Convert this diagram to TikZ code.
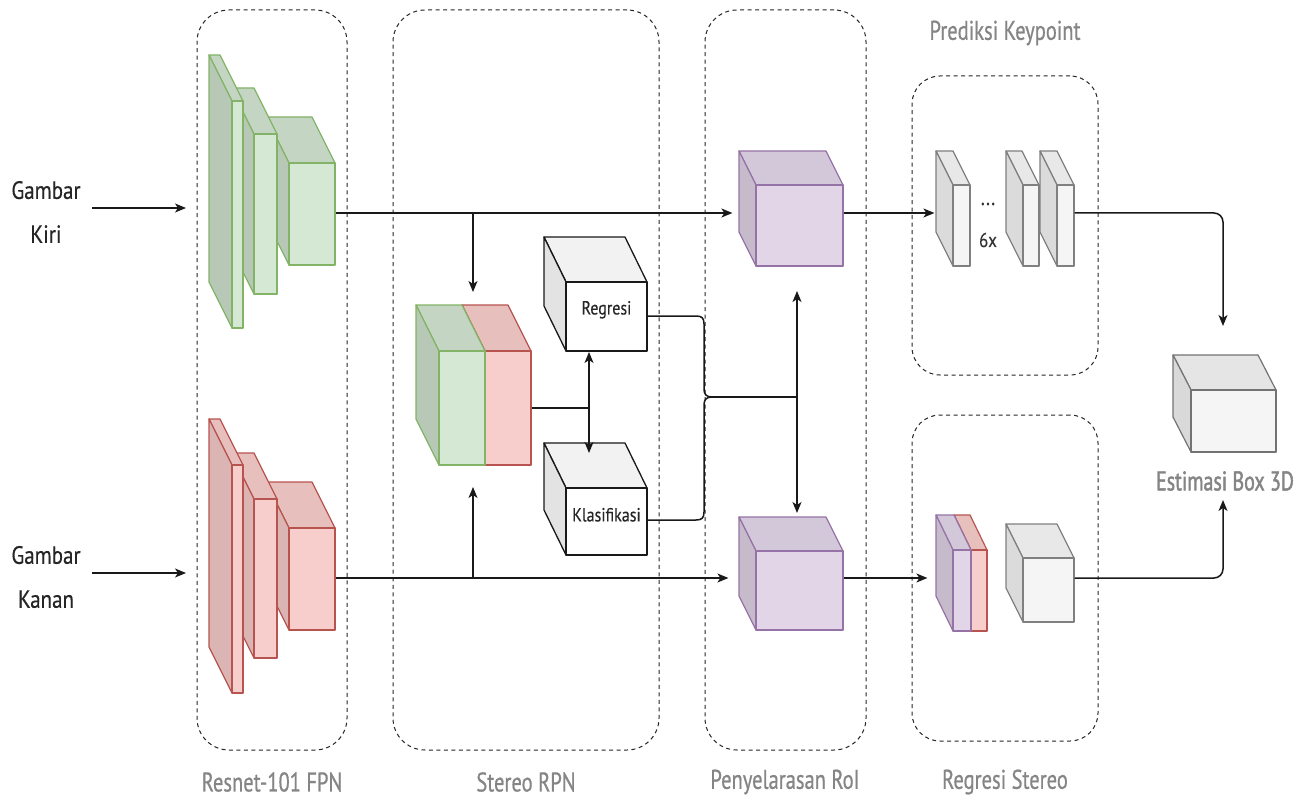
\documentclass[tikz,border=0pt]{standalone}
\usepackage{fontspec}
\setmainfont{PT Sans}
\newfontfamily\narrowfont{PT Sans}[FakeStretch=0.76,FakeBold=0.6]
\newfontfamily\heavyfont{PT Sans}[FakeStretch=0.74,FakeBold=1.6]
\newfontfamily\innerfont{PT Sans}[FakeStretch=0.84,FakeBold=0.3]
\usetikzlibrary{arrows.meta,fit}

\definecolor{gFront}{HTML}{D5E8D4}\definecolor{gLine}{HTML}{82B366}
\definecolor{rFront}{HTML}{F8CECC}\definecolor{rLine}{HTML}{B85450}
\definecolor{pFront}{HTML}{E1D5E7}\definecolor{pLine}{HTML}{9673A6}
\definecolor{labelGray}{HTML}{858585}

\tikzset{
  green front/.style={fill=gFront, draw=gLine, line width=1.2pt, line join=round},
  green top/.style={fill=gFront!92!black, draw=gLine, line width=1.2pt, line join=round},
  green side/.style={fill=gFront!86!black, draw=gLine, line width=1.2pt, line join=round},
  red front/.style={fill=rFront, draw=rLine, line width=1.2pt, line join=round},
  red top/.style={fill=rFront!93!black, draw=rLine, line width=1.2pt, line join=round},
  red side/.style={fill=rFront!88!black, draw=rLine, line width=1.2pt, line join=round},
  purple front/.style={fill=pFront, draw=pLine, line width=1.2pt, line join=round},
  purple top/.style={fill=pFront!94!black, draw=pLine, line width=1.2pt, line join=round},
  purple side/.style={fill=pFront!88!black, draw=pLine, line width=1.2pt, line join=round},
  slab front/.style={fill=black!4, draw=black!50, line width=1.2pt, line join=round},
  slab top/.style={fill=black!9, draw=black!50, line width=1.2pt, line join=round},
  slab side/.style={fill=black!14, draw=black!50, line width=1.2pt, line join=round},
  head front/.style={fill=white, draw=black!90, line width=1.3pt, line join=round},
  head top/.style={fill=black!5, draw=black!90, line width=1.3pt, line join=round},
  head side/.style={fill=black!11, draw=black!90, line width=1.3pt, line join=round},
  out front/.style={fill=black!4, draw=black!55, line width=1.2pt, line join=round},
  out top/.style={fill=black!10, draw=black!55, line width=1.2pt, line join=round},
  out side/.style={fill=black!15, draw=black!55, line width=1.2pt, line join=round},
  group/.style={draw=black!85, line width=1pt, dash pattern=on 4pt off 3.5pt, rounded corners=32pt, inner sep=0pt},
  conn/.style={draw=black!90, line width=1.5pt},
  arr/.style={conn, -{Stealth[length=11pt,width=9pt,inset=3pt]}},
  darr/.style={conn, {Stealth[length=11pt,width=9pt,inset=3pt]}-{Stealth[length=11pt,width=9pt,inset=3pt]}},
  glabel/.style={text=labelGray, font=\narrowfont\fontsize{27}{30}\selectfont, inner sep=0pt},
  inlabel/.style={text=black!85, font=\innerfont\fontsize{19}{22}\selectfont},
  inputlabel/.style={align=center, text=black!85, font=\innerfont\fontsize{25}{44}\selectfont},
}

% cube: name, left, top, right, bottom (front face), depth dx, depth dy, colour set, text
\newcommand\drawcube[9]{%
  \path[#8 top] (#2,#3) -- (#2-#6,#3-#7) -- (#4-#6,#3-#7) -- (#4,#3) -- cycle;
  \path[#8 side] (#2,#3) -- (#2-#6,#3-#7) -- (#2-#6,#5-#7) -- (#2,#5) -- cycle;
  \node[#8 front, fit={(#2,#3)(#4,#5)}, inner sep=0pt, inlabel] (#1) {#9};
}

\begin{document}
\begin{tikzpicture}[x=1pt,y=-1pt]
\useasboundingbox[fill=white] (0,0) rectangle (1307,805);

% stage frames
\node[group, fit={(197,10)(347,750)}] (fpnGroup) {};
\node[group, fit={(393,10)(659,750)}] (rpnGroup) {};
\node[group, fit={(705,10)(866,750)}] (roiGroup) {};
\node[group, rounded corners=28pt, fit={(912,76)(1098,375)}] (kpGroup) {};
\node[group, rounded corners=28pt, fit={(912,415)(1098,741)}] (srGroup) {};

% stage titles
\node[glabel] (tFpn) at (272,782) {Resnet-101 FPN};
\node[glabel] (tRpn) at (526,782) {Stereo RPN};
\node[glabel] (tRoi) at (785,782) {Penyelarasan RoI};
\node[glabel] (tSr) at (1005,782) {Regresi Stereo};
\node[glabel] (tKp) at (1005,33) {Prediksi Keypoint};

% inputs
\node[inputlabel] (inL) at (46,212) {Gambar\\Kiri};
\node[inputlabel] (inR) at (46,577) {Gambar\\Kanan};

% left backbone (green)
\drawcube{fpnL3}{289}{163}{335}{265}{23}{46}{green}{}
\drawcube{fpnL2}{254}{134}{277}{294}{23}{46}{green}{}
\drawcube{fpnL1}{232}{101}{243}{328}{23}{46}{green}{}
% right backbone (red)
\drawcube{fpnR3}{289}{528}{335}{630}{23}{46}{red}{}
\drawcube{fpnR2}{254}{499}{277}{658}{23}{46}{red}{}
\drawcube{fpnR1}{232}{465}{243}{693}{23}{46}{red}{}

% stereo RPN: fused features and heads
\drawcube{fuseR}{485}{351}{531}{465}{23}{46}{red}{}
\drawcube{fuseL}{439}{351}{485}{465}{23}{46}{green}{}
\drawcube{reg}{566}{282}{647}{351}{22}{45}{head}{Regresi}
\drawcube{cls}{566}{488}{647}{555}{22}{45}{head}{Klasifikasi}

% RoI align
\drawcube{roiL}{756}{185}{843}{266}{17}{34}{purple}{}
\drawcube{roiR}{756}{551}{843}{630}{17}{34}{purple}{}

% keypoint branch
\drawcube{kp1}{953}{185}{970}{266}{17}{34}{slab}{}
\drawcube{kp2}{1023}{185}{1039}{266}{17}{34}{slab}{}
\drawcube{kp3}{1057}{185}{1074}{266}{17}{34}{slab}{}
\node[text=black!80, font=\innerfont\fontsize{22}{22}\selectfont] (kpDots) at (988,204) {...};
\node[text=black!80, font=\innerfont\fontsize{20}{22}\selectfont] (kpRep) at (988,240) {6x};

% stereo regression branch
\drawcube{srR}{971}{550}{987}{631}{17}{35}{red}{}
\drawcube{srP}{953}{550}{971}{631}{17}{35}{purple}{}
\drawcube{srBox}{1023}{558}{1074}{622}{17}{34}{slab}{}

% output
\drawcube{box3d}{1191}{390}{1276}{452}{18}{35}{out}{}
\node[glabel, text=black!48, font=\heavyfont\fontsize{27}{30}\selectfont] (tBox) at (1225,481) {Estimasi Box 3D};

% junction points
\coordinate (inLend) at (186,208);
\coordinate (inRend) at (186,573);
\coordinate (inLstart) at (92,208);
\coordinate (inRstart) at (92,573);
\coordinate (tapL) at (473,213);
\coordinate (tapR) at (473,578);
\coordinate (fuseTop) at (473,292);
\coordinate (fuseBot) at (473,487);
\coordinate (headJ) at (589,408);
\coordinate (regIn) at (589,352);
\coordinate (clsIn) at (589,453);
\coordinate (brace) at (712,397);
\coordinate (roiJ) at (797,397);
\coordinate (roiUp) at (797,291);
\coordinate (roiDn) at (797,513);
\coordinate (boxTop) at (1223,326);
\coordinate (boxBot) at (1223,500);

% connectors
\draw[arr] (inLstart) -- (inLend);
\draw[arr] (inRstart) -- (inRend);
\draw[arr] (fpnL3.east |- tapL) -- ([xshift=-23pt]roiL.west |- tapL);
\draw[arr] (fpnR3.east |- tapR) -- ([xshift=-27pt]roiR.west |- tapR);
\draw[arr] (tapL) -- (fuseTop);
\draw[arr] (tapR) -- (fuseBot);
\draw[conn] (fuseR.east |- headJ) -- (headJ);
\draw[darr] (regIn) -- (clsIn);
\draw[conn] (reg.east |- 0,316) -- (696,316) .. controls (702,316) and (704,318) .. (704,324)
  -- (704,389) .. controls (704,394) and (706,397) .. (brace);
\draw[conn] (cls.east |- 0,520) -- (696,520) .. controls (702,520) and (704,518) .. (704,512)
  -- (704,405) .. controls (704,400) and (706,397) .. (brace);
\draw[conn] (brace) -- (roiJ);
\draw[darr] (roiUp) -- (roiDn);
\draw[arr] (roiL.east |- 0,213) -- ([xshift=-18pt]kp1.west |- 0,213);
\draw[arr] (roiR.east |- 0,578) -- ([xshift=-25pt]srP.west |- 0,578);
\draw[arr, rounded corners=9pt] (kp3.east |- 0,213) -- (1223,213) -- (boxTop);
\draw[arr, rounded corners=9pt] (srBox.east |- 0,578) -- (1223,578) -- (boxBot);
\end{tikzpicture}
\end{document}
